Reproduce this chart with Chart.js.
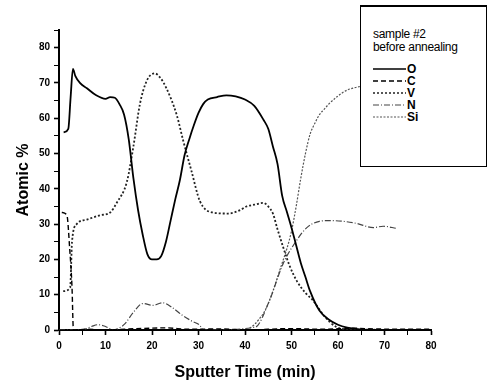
<!DOCTYPE html>
<html>
<head>
<meta charset="utf-8">
<script src="https://cdn.jsdelivr.net/npm/chart.js@4/dist/chart.umd.min.js"></script>
<style>
  body { margin: 0; background: #fff; }
  #wrap { position: relative; width: 488px; height: 385px; }
  #legend {
    position: absolute; left: 360px; top: 5px; width: 127px; height: 162px;
    background: #fff; border: 1.5px solid #000; border-top-width: 2px;
    font-family: Arial, "Liberation Sans", sans-serif; font-size: 12px; color: #000;
    box-sizing: border-box;
  }
  #legend .title { position: absolute; left: 12px; top: 21px; line-height: 13px; letter-spacing: -0.3px; }
  #legend .row { position: absolute; left: 12px; height: 12px; display: flex; align-items: center; font-weight: bold; }
  #legend svg { width: 33px; height: 12px; margin-right: 1px; }
</style>
</head>
<body>
<div id="wrap">
  <canvas id="c" width="488" height="385"></canvas>
  <div id="legend"><div class="title">sample #2<br>before annealing</div></div>
</div>
<script>
// sputter time (min) and atomic %
var oTime = [1, 2, 2.5, 3, 3.5, 4.5, 6, 8, 10, 11, 12, 13, 14, 15, 16, 17, 18, 19, 20, 21, 22, 23, 24, 25, 26, 27, 28, 29, 30, 31, 32, 34, 36, 38, 40, 42, 44, 45, 46, 47, 48, 49, 50, 51, 52, 53, 54, 56, 58, 60, 62, 64, 66, 80];
var oVal  = [56, 57, 66, 74, 72, 70, 68.5, 66.5, 65.5, 66, 65.8, 64, 61, 54, 43, 34, 27, 21.5, 20, 20, 21, 25, 31, 37, 42.5, 49.5, 54, 58, 61.5, 64, 65.3, 66, 66.5, 66.2, 65.3, 63.5, 59.5, 57, 52, 47, 38, 33.5, 29, 24, 19, 15, 11, 5.5, 3, 1.5, 0.7, 0.3, 0, 0];

var cTime = [0.6, 1.7, 2.3, 2.8, 3.1, 6, 10, 15, 23, 28, 35, 40, 50, 57, 63, 68, 75, 80];
var cVal  = [33.3, 32.5, 23, 12, 0, 0.2, 0, 0.3, 0.6, 0.2, 0.3, 0, 0.4, 0.2, 0.5, 0.3, 0.2, 0.2];

var vTime = [0.9, 2.4, 2.8, 3.8, 6, 8.8, 11, 12.4, 14.6, 16, 17.4, 18.9, 20.6, 21.7, 23.1, 25.3, 26.7, 28.5, 30.3, 33, 36.4, 39, 40.3, 42, 44, 45, 46, 47, 48.2, 49.5, 51.1, 53, 54.6, 57, 59.7, 62, 80];
var vVal  = [11, 12, 25, 30, 31.3, 32.5, 33.3, 36, 42, 52, 64, 70.7, 72.7, 71.6, 68.5, 61, 53.7, 45, 36.5, 33.3, 33, 34, 35, 35.5, 36, 35, 33, 28.5, 23.5, 18.5, 14, 10.5, 8.4, 4, 0.8, 0.2, 0];

var nTime = [0, 4.9, 7, 8.4, 10, 11.7, 13, 14.2, 16, 18, 20.2, 22.3, 24.2, 26.5, 28.6, 30.3, 31, 42.2, 45, 48.2, 50.8, 53.3, 56, 58.3, 61, 64, 67.6, 69.7, 72.6];
var nVal  = [0, 0, 1, 1.5, 1, 0, 0.6, 1.8, 5, 7.5, 7, 7.7, 6.5, 4.2, 2.5, 1.3, 0, 0.8, 7.5, 18.8, 24.8, 29, 30.8, 31, 30.8, 30.2, 29, 29.4, 28.8];

var siTime = [41, 42, 43, 44, 45, 46, 47, 48, 49, 50, 51, 52, 53, 54, 55, 56, 57, 58, 60, 62, 64.7];
var siVal  = [0.5, 1.5, 3, 4.8, 7.5, 11, 15, 19, 23, 28, 35, 43, 50, 55.5, 58.5, 61, 62.5, 64, 66.3, 68, 69];

var seriesNames = ['O', 'C', 'V', 'N', 'Si'];
var yTicks = [0, 10, 20, 30, 40, 50, 60, 70, 80];
var xTicks = [0, 10, 20, 30, 40, 50, 60, 70, 80];

function pts(t, v) { return t.map(function (x, i) { return { x: x, y: v[i] }; }); }

var styles = [
  { color: '#000', width: 1.8, dash: [] },
  { color: '#000', width: 1.4, dash: [5, 3] },
  { color: '#222', width: 1.8, dash: [2, 2] },
  { color: '#444', width: 1.2, dash: [6, 2, 1, 2] },
  { color: '#555', width: 1.2, dash: [2, 1.5] }
];
var series = [[oTime, oVal], [cTime, cVal], [vTime, vVal], [nTime, nVal], [siTime, siVal]];

var datasets = series.map(function (s, i) {
  return {
    label: seriesNames[i], data: pts(s[0], s[1]),
    borderColor: styles[i].color, borderWidth: styles[i].width, borderDash: styles[i].dash,
    pointRadius: 0, fill: false, cubicInterpolationMode: 'monotone'
  };
});

var tickFont = { family: 'Arial, "Liberation Sans", sans-serif', size: 10, weight: 'bold' };
var titleFont = { family: 'Arial, "Liberation Sans", sans-serif', size: 16, weight: 'bold' };

new Chart(document.getElementById('c'), {
  type: 'line',
  data: { datasets: datasets },
  options: {
    responsive: false, animation: false,
    layout: { padding: { top: 30, right: 57, left: 0, bottom: 0 } },
    plugins: { legend: { display: false }, tooltip: { enabled: false } },
    scales: {
      x: {
        type: 'linear', min: 0, max: 80,
        afterFit: function (s) { s.height = 55; },
        border: { color: '#000', width: 2 },
        grid: { drawOnChartArea: false, drawTicks: true, tickLength: 5, tickColor: '#000',
          tickWidth: function (ctx) { return ctx.tick && ctx.tick.value % 10 === 0 ? 1.6 : 1; } },
        ticks: { stepSize: 5, color: '#000', font: tickFont, padding: 5, maxRotation: 0,
          callback: function (v) { return xTicks.indexOf(v) >= 0 ? String(v) : ''; } },
        title: { display: true, text: 'Sputter Time (min)', color: '#000', font: titleFont, padding: { top: 4, bottom: 3 } }
      },
      y: {
        min: 0, max: 85,
        afterFit: function (s) { s.width = 59; },
        border: { color: '#000', width: 2 },
        grid: { drawOnChartArea: false, drawTicks: true, tickLength: 5, tickColor: '#000',
          tickWidth: function (ctx) { return ctx.tick && ctx.tick.value % 10 === 0 ? 1.6 : 1; } },
        ticks: { stepSize: 5, color: '#000', font: tickFont, padding: 4,
          callback: function (v) { return yTicks.indexOf(v) >= 0 ? String(v) : ''; } },
        title: { display: true, text: 'Atomic %', color: '#000', font: titleFont, padding: { top: 14, bottom: 0 } }
      }
    }
  }
});

// legend rows with line samples in the same styles
var legend = document.getElementById('legend');
seriesNames.forEach(function (name, i) {
  var row = document.createElement('div');
  row.className = 'row';
  row.style.top = (56 + i * 12) + 'px';
  var st = styles[i];
  row.innerHTML = '<svg viewBox="0 0 33 12"><line x1="0" y1="6" x2="33" y2="6" stroke="' + st.color +
    '" stroke-width="' + Math.min(st.width, 1.3) + '" stroke-dasharray="' + (st.dash.length ? st.dash.join(' ') : 'none') + '"/></svg>' + name;
  legend.appendChild(row);
});
</script>
</body>
</html>
